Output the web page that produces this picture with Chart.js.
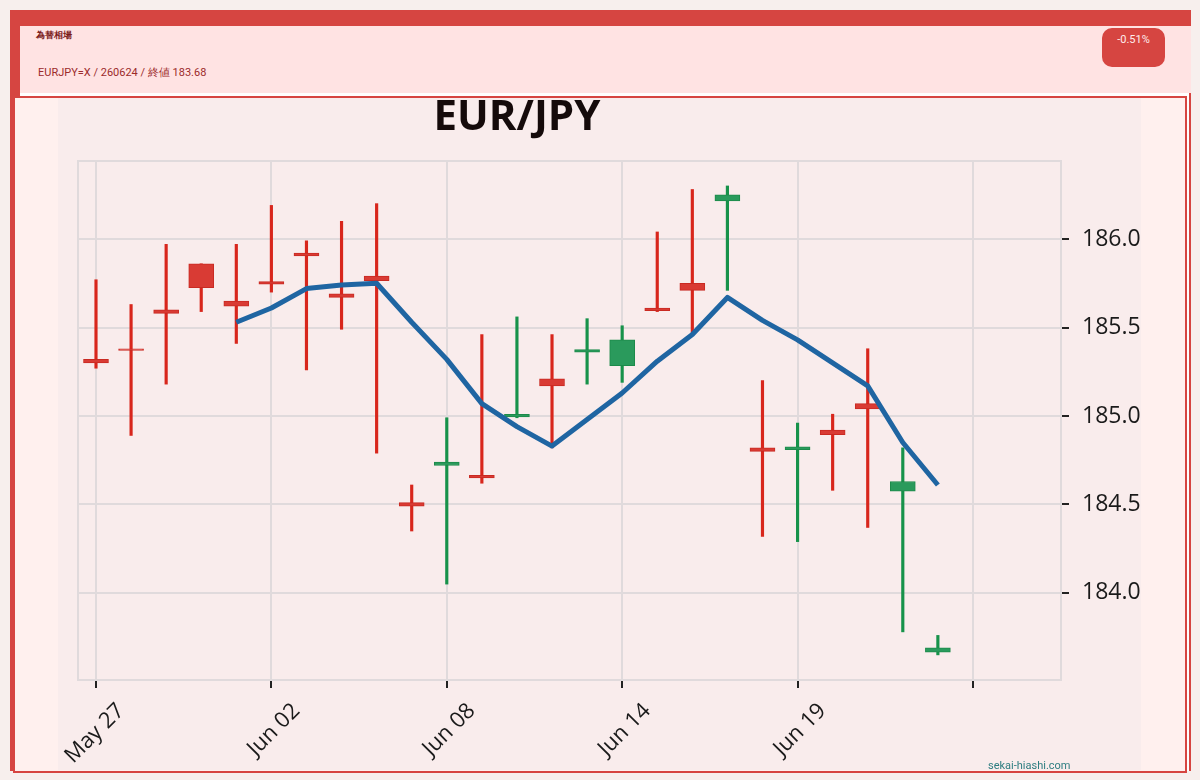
<!DOCTYPE html>
<html>
<head>
<meta charset="utf-8">
<script src="https://cdn.jsdelivr.net/npm/chart.js@4.4.1/dist/chart.umd.min.js"></script>
<style>
    body { margin: 0; background: #f7efed; width: 1200px; height: 780px; position: relative; overflow: hidden; font-family: Roboto, sans-serif; }
    .abs { position: absolute; }
    #frame { left: 10px; top: 10px; width: 1181px; height: 761px; background: #d64541; }
    #head { left: 20px; top: 26px; width: 1171px; height: 67px; background: #ffe3e3; }
    #gap { left: 20px; top: 93px; width: 1169px; height: 678px; background: #ffffff; }
    #card { left: 13px; top: 96px; width: 1170px; height: 673px; border: 2px solid #d64541; background: #fff0ee; }
    #plot { left: 58px; top: 98px; width: 1083px; height: 672px; background: #f9ecec; }
    #name { left: 36px; top: 29px; font-size: 9px; font-weight: bold; color: #7a1a1a; }
    #info { left: 38px; top: 65px; font-size: 11px; color: #9c2b2b; }
    #badge { left: 1102px; top: 28px; width: 63px; height: 39px; border-radius: 10px; background: #d64541; color: #ffecec; font-size: 11px; text-align: center; line-height: 24px; }
    #title { left: 317px; top: 93px; width: 400px; text-align: center; font-family: 'Open Sans', sans-serif; font-weight: bold; font-size: 42px; line-height: 42px; color: #150a0a; }
    #mark { left: 988px; top: 759px; font-size: 11px; color: #2e7d80; }
</style>
</head>
<body>
<div id="frame" class="abs"></div>
<div id="head" class="abs"></div>
<div id="gap" class="abs"></div>
<div id="card" class="abs"></div>
<div id="plot" class="abs"><canvas id="myChart" width="1083" height="672"></canvas></div>
<div id="name" class="abs">為替相場</div>
<div id="info" class="abs">EURJPY=X / 260624 / 終値 183.68</div>
<div id="badge" class="abs">-0.51%</div>
<div id="title" class="abs">EUR/JPY</div>
<div id="mark" class="abs">sekai-hiashi.com</div>

<script>
let myChart = document.querySelector('#myChart').getContext('2d')

const dates = ['May 27', 'May 28', 'May 29', 'May 30', 'May 31', 'Jun 02', 'Jun 03', 'Jun 04', 'Jun 05', 'Jun 06',
    'Jun 08', 'Jun 09', 'Jun 10', 'Jun 11', 'Jun 12', 'Jun 14', 'Jun 15', 'Jun 16', 'Jun 17', 'Jun 18',
    'Jun 19', 'Jun 20', 'Jun 21', 'Jun 22', 'Jun 24']

const opens = [185.32, 185.38, 185.60, 185.86, 185.65, 185.76, 185.92, 185.69, 185.79, 184.51,
    184.72, 184.665, 184.995, 185.21, 185.36, 185.285, 185.61, 185.75, 186.215, 184.82,
    184.81, 184.92, 185.07, 184.575, 183.665]
const closes = [185.30, 185.37, 185.58, 185.725, 185.62, 185.745, 185.905, 185.67, 185.765, 184.49,
    184.74, 184.65, 185.01, 185.17, 185.375, 185.43, 185.595, 185.71, 186.25, 184.80,
    184.825, 184.895, 185.04, 184.63, 183.69]
const highs = [185.77, 185.63, 185.97, 185.86, 185.97, 186.19, 185.99, 186.10, 186.20, 184.61,
    184.99, 185.46, 185.56, 185.46, 185.55, 185.51, 186.04, 186.28, 186.30, 185.20,
    184.96, 185.01, 185.38, 184.82, 183.76]
const lows = [185.27, 184.89, 185.18, 185.59, 185.41, 185.70, 185.26, 185.49, 184.79, 184.35,
    184.05, 184.62, 184.99, 184.82, 185.18, 185.19, 185.59, 185.47, 185.71, 184.32,
    184.29, 184.58, 184.37, 183.78, 183.65]

// 5 day average
const average = [null, null, null, null, 185.53, 185.61, 185.72, 185.74, 185.75, 185.53,
    185.32, 185.07, 184.94, 184.83, 184.98, 185.13, 185.31, 185.46, 185.67, 185.54,
    185.43, 185.30, 185.17, 184.85, 184.61]

const xTicks = [0, 5, 10, 15, 20, 25]
const yTicks = [184.0, 184.5, 185.0, 185.5, 186.0]

const isUp = i => closes[i] >= opens[i]
const wickColors = dates.map((d, i) => isUp(i) ? '#17924a' : '#d8261c')
const bodyColors = dates.map((d, i) => isUp(i) ? '#2a9a5c' : '#d93b34')
const edgeColors = dates.map((d, i) => isUp(i) ? '#1c8a4a' : '#c92a22')

const gridColor = '#e0dadc'

const framePlugin = {
    id: 'frame',
    beforeDatasetsDraw: (chart) => {
        const a = chart.chartArea
        const ctx = chart.ctx
        ctx.save()
        ctx.strokeStyle = gridColor
        ctx.lineWidth = 2
        ctx.strokeRect(a.left, a.top, a.right - a.left, a.bottom - a.top)
        ctx.restore()
    }
}

Chart.defaults.font.family = "'Open Sans', sans-serif"

const buildChart = () => {
    let fxChart = new Chart(myChart, {
        type: 'bar',
        data: {
            datasets: [{
                label: 'wick',
                data: dates.map((d, i) => ({ x: i, y: [lows[i], highs[i]] })),
                backgroundColor: wickColors,
                borderWidth: 0,
                barThickness: 2.5,
                grouped: false,
                order: 3
            }, {
                label: 'body',
                data: dates.map((d, i) => ({ x: i, y: [opens[i], closes[i]] })),
                backgroundColor: bodyColors,
                borderColor: edgeColors,
                borderWidth: 1,
                borderSkipped: false,
                barThickness: 25,
                grouped: false,
                order: 2
            }, {
                type: 'line',
                label: 'MA5',
                data: average.map((v, i) => ({ x: i, y: v })),
                borderColor: '#1f65a2',
                borderWidth: 5,
                borderJoinStyle: 'round',
                pointRadius: 0,
                tension: 0,
                order: 1
            }]
        },
        options: {
            responsive: false,
            animation: false,
            layout: { padding: { left: 20, top: 63, right: 0, bottom: 0 } },
            plugins: {
                legend: { display: false },
                tooltip: { enabled: false }
            },
            scales: {
                x: {
                    type: 'linear',
                    min: -0.513,
                    max: 27.51,
                    offset: false,
                    afterBuildTicks: axis => { axis.ticks = xTicks.map(v => ({ value: v })) },
                    afterFit: axis => { axis.height = 90; axis.paddingLeft = 0; axis.paddingRight = 0 },
                    grid: { color: gridColor, lineWidth: 2, offset: false, tickColor: '#222', tickLength: 8, tickWidth: 2 },
                    border: { display: false },
                    ticks: {
                        callback: v => dates[v] || '',
                        minRotation: 45,
                        maxRotation: 45,
                        autoSkip: false,
                        padding: 10,
                        labelOffset: 25,
                        color: '#1a1a1a',
                        font: { size: 22 }
                    }
                },
                y: {
                    position: 'right',
                    min: 183.508,
                    max: 186.441,
                    afterBuildTicks: axis => { axis.ticks = yTicks.map(v => ({ value: v })) },
                    afterFit: axis => { axis.width = 80; axis.paddingTop = 0; axis.paddingBottom = 0 },
                    grid: { color: gridColor, lineWidth: 2, tickColor: '#222', tickLength: 8, tickWidth: 2 },
                    border: { display: false },
                    ticks: {
                        callback: v => v.toFixed(1),
                        padding: 13,
                        color: '#1a1a1a',
                        font: { size: 23 }
                    }
                }
            }
        },
        plugins: [framePlugin]
    })
}

buildChart()
</script>
</body>
</html>
